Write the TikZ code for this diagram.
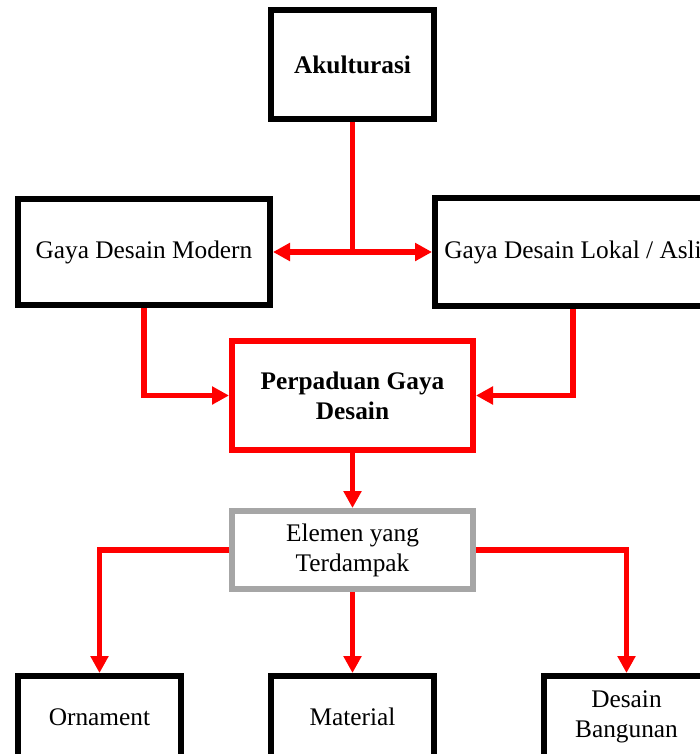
\documentclass[tikz,border=0pt]{standalone}
\usepackage{fontspec}
\setmainfont{Liberation Serif}
\usetikzlibrary{arrows.meta,positioning,calc}
\definecolor{flowred}{RGB}{255,0,0}
\definecolor{boxgray}{RGB}{166,166,166}

\tikzset{
  basebox/.style={draw=black, line width=4.5pt, fill=white, inner sep=0pt,
    align=center, font=\fontsize{19}{22.5}\selectfont},
  keybox/.style={basebox, draw=flowred},
  greybox/.style={basebox, draw=boxgray},
  flowline/.style={draw=flowred, line width=4pt, line join=miter},
  flowarrow/.style={flowline, -{Triangle[length=12.75pt,width=13pt]}}
}

\begin{document}
\begin{tikzpicture}[x=0.75pt,y=-0.75pt]

\useasboundingbox (0,0) rectangle (700,754);
\clip (0,0) rectangle (700,754);

% -------- Top box --------
\node[basebox, minimum width=122.25pt, minimum height=81.75pt,
  font=\fontsize{19}{22.5}\selectfont\bfseries] (akulturasi) at (352.5,64.5) {Akulturasi};

% -------- Two design styles --------
\node[basebox, minimum width=189pt, minimum height=79.5pt] (modern) at (144,252)
  {Gaya Desain Modern};
\node[basebox, minimum width=207pt, minimum height=81pt] (lokal) at (573,252)
  {Gaya Desain Lokal / Asli};

% -------- Fusion box (red) --------
\node[keybox, minimum width=180.75pt, minimum height=81.75pt,
  font=\fontsize{19}{22.5}\selectfont\bfseries] (perpaduan) at (352.5,395.5)
  {Perpaduan Gaya\\Desain};

% -------- Affected elements (grey) --------
\node[greybox, minimum width=180.75pt, minimum height=58.5pt] (elemen) at (352.5,550)
  {Elemen yang\\Terdampak};

% -------- Bottom boxes --------
\node[basebox, minimum width=122.25pt, minimum height=61.5pt] (ornament) at (99.5,717) {Ornament};
\node[basebox, minimum width=122.25pt, minimum height=61.5pt] (material) at (352.5,717) {Material};
\node[basebox, minimum width=123.75pt, minimum height=61.5pt] (bangunan) at (626.5,717) {Desain\\Bangunan};

% -------- Connectors --------
\coordinate (split) at (akulturasi.south |- modern.east);
\draw[flowline] (akulturasi.south) -- (split);
\draw[flowarrow] (split) -- (modern.east);
\draw[flowarrow] (split) -- (lokal.west);

\draw[flowarrow] (modern.south) |- (perpaduan.west);
\draw[flowarrow] (lokal.south) |- (perpaduan.east);
\draw[flowarrow] (perpaduan.south) -- (elemen.north);

\draw[flowarrow] (elemen.west) -| (ornament.north);
\draw[flowarrow] (elemen.south) -- (material.north);
\draw[flowarrow] (elemen.east) -| (bangunan.north);

\end{tikzpicture}
\end{document}
